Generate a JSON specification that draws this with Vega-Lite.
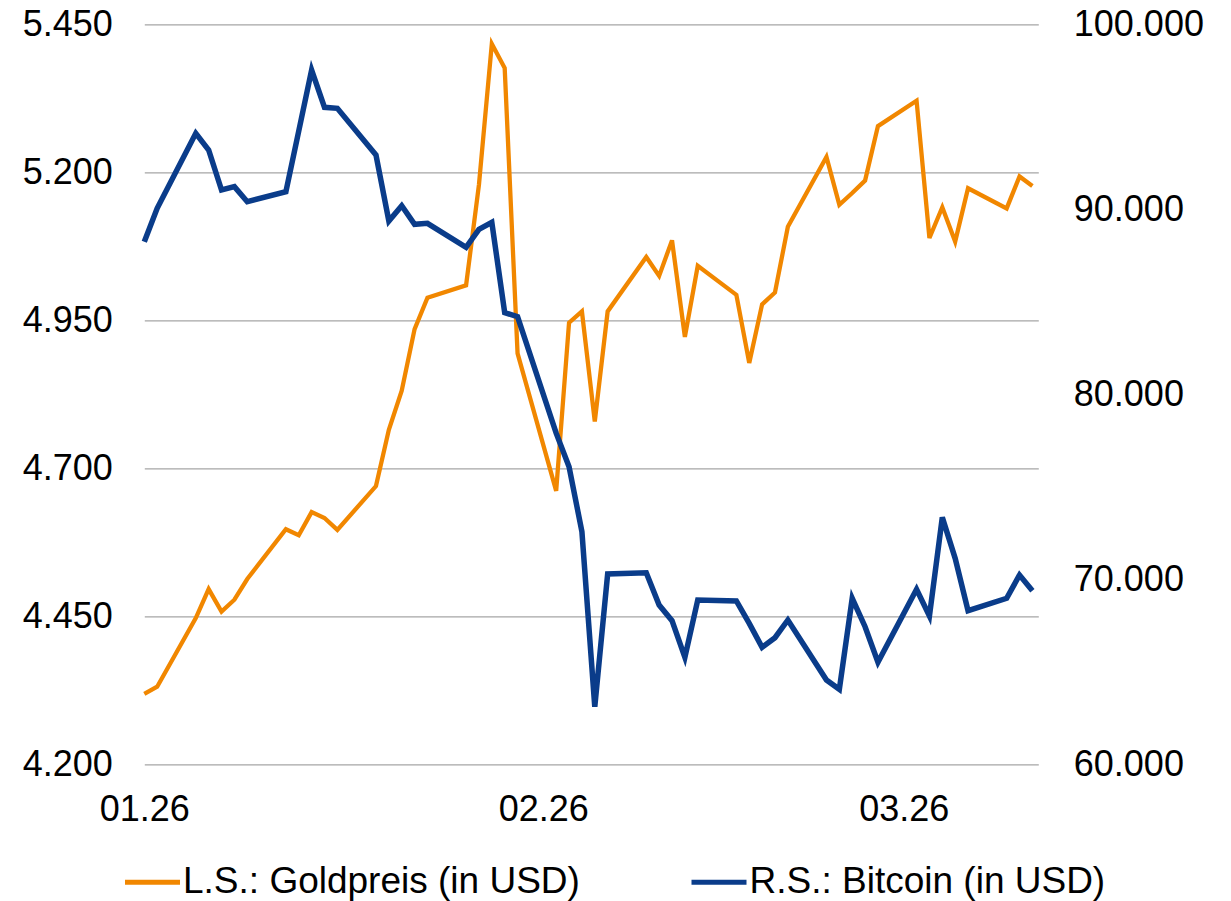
{
  "$schema": "https://vega.github.io/schema/vega-lite/v6.json",
  "width": 894,
  "height": 740,
  "autosize": {"type": "none"},
  "padding": {"left": 144.3, "top": 24.3, "right": 192.7, "bottom": 136.7},
  "background": "white",
  "config": {
    "view": {"stroke": null},
    "font": "Liberation Sans",
    "axis": {"labelFont": "Liberation Sans", "labelFontSize": 36, "labelColor": "#000000", "domain": false, "ticks": false, "title": null, "labelOverlap": false, "labelBound": false, "labelFlush": false},
    "legend": {"labelFont": "Liberation Sans", "labelFontSize": 37, "labelColor": "#000000", "labelLimit": 0}
  },
  "data": {
    "values": [
      {"d": "2026-01-01", "gold": 4319, "btc": 88250},
      {"d": "2026-01-02", "gold": 4331, "btc": 90054},
      {"d": "2026-01-05", "gold": 4447, "btc": 94108},
      {"d": "2026-01-06", "gold": 4496, "btc": 93205},
      {"d": "2026-01-07", "gold": 4458, "btc": 91043},
      {"d": "2026-01-08", "gold": 4478, "btc": 91222},
      {"d": "2026-01-09", "gold": 4513, "btc": 90411},
      {"d": "2026-01-12", "gold": 4597, "btc": 90951},
      {"d": "2026-01-13", "gold": 4587, "btc": 94230},
      {"d": "2026-01-14", "gold": 4626, "btc": 97530},
      {"d": "2026-01-15", "gold": 4616, "btc": 95514},
      {"d": "2026-01-16", "gold": 4596, "btc": 95459},
      {"d": "2026-01-19", "gold": 4670, "btc": 92935},
      {"d": "2026-01-20", "gold": 4765, "btc": 89368},
      {"d": "2026-01-21", "gold": 4831, "btc": 90195},
      {"d": "2026-01-22", "gold": 4935, "btc": 89189},
      {"d": "2026-01-23", "gold": 4988, "btc": 89243},
      {"d": "2026-01-26", "gold": 5009, "btc": 87946},
      {"d": "2026-01-27", "gold": 5179, "btc": 88919},
      {"d": "2026-01-28", "gold": 5417, "btc": 89297},
      {"d": "2026-01-29", "gold": 5376, "btc": 84411},
      {"d": "2026-01-30", "gold": 4894, "btc": 84195},
      {"d": "2026-02-02", "gold": 4662, "btc": 77900},
      {"d": "2026-02-03", "gold": 4946, "btc": 76087},
      {"d": "2026-02-04", "gold": 4965, "btc": 72573},
      {"d": "2026-02-05", "gold": 4779, "btc": 63114},
      {"d": "2026-02-06", "gold": 4965, "btc": 70286},
      {"d": "2026-02-09", "gold": 5057, "btc": 70357},
      {"d": "2026-02-10", "gold": 5025, "btc": 68611},
      {"d": "2026-02-11", "gold": 5085, "btc": 67762},
      {"d": "2026-02-12", "gold": 4922, "btc": 65784},
      {"d": "2026-02-13", "gold": 5042, "btc": 68881},
      {"d": "2026-02-16", "gold": 4993, "btc": 68827},
      {"d": "2026-02-17", "gold": 4878, "btc": 67620},
      {"d": "2026-02-18", "gold": 4977, "btc": 66324},
      {"d": "2026-02-19", "gold": 4997, "btc": 66843},
      {"d": "2026-02-20", "gold": 5108, "btc": 67800},
      {"d": "2026-02-23", "gold": 5226, "btc": 64557},
      {"d": "2026-02-24", "gold": 5145, "btc": 64054},
      {"d": "2026-02-25", "gold": 5165, "btc": 68973},
      {"d": "2026-02-26", "gold": 5186, "btc": 67438},
      {"d": "2026-02-27", "gold": 5278, "btc": 65514},
      {"d": "2026-03-02", "gold": 5321, "btc": 69459},
      {"d": "2026-03-03", "gold": 5089, "btc": 68016},
      {"d": "2026-03-04", "gold": 5141, "btc": 73351},
      {"d": "2026-03-05", "gold": 5083, "btc": 71135},
      {"d": "2026-03-06", "gold": 5173, "btc": 68303},
      {"d": "2026-03-09", "gold": 5139, "btc": 68973},
      {"d": "2026-03-10", "gold": 5193, "btc": 70232},
      {"d": "2026-03-11", "gold": 5177, "btc": 69384}
    ]
  },
  "layer": [
    {
      "mark": {"type": "line", "strokeWidth": 4.3},
      "encoding": {
        "x": {
          "field": "d", "type": "temporal",
          "scale": {"type": "utc", "domain": [{"year": 2026, "month": 1, "date": 1, "utc": true}, {"year": 2026, "month": 3, "date": 11, "hours": 11, "utc": true}]},
          "axis": {
            "values": [{"year": 2026, "month": 1, "date": 1, "utc": true}, {"year": 2026, "month": 2, "date": 1, "utc": true}, {"year": 2026, "month": 3, "date": 1, "utc": true}],
            "labelExpr": "utcFormat(datum.value, '%m.%y')", "grid": false, "labelPadding": 28, "labelAlign": "center"
          }
        },
        "y": {
          "field": "gold", "type": "quantitative",
          "scale": {"domain": [4200, 5450], "nice": false, "zero": false},
          "axis": {
            "orient": "left", "values": [4200, 4450, 4700, 4950, 5200, 5450],
            "labelExpr": "replace(format(datum.value, ',.0f'), ',', '.')",
            "grid": true, "gridColor": "#A6A6A6", "gridWidth": 1.3, "labelPadding": 32
          }
        },
        "color": {
          "datum": "L.S.: Goldpreis (in USD)",
          "scale": {"domain": ["L.S.: Goldpreis (in USD)", "R.S.: Bitcoin (in USD)"], "range": ["#F18700", "#0A3C8A"]},
          "legend": {
            "title": null, "orient": "none", "direction": "horizontal", "legendX": -21.8, "legendY": 828,
            "symbolType": "stroke", "symbolSize": 3025, "symbolStrokeWidth": 5, "labelOffset": 0.5,
            "columnPadding": 100.5, "padding": 0, "labelLimit": 0
          }
        }
      }
    },
    {
      "mark": {"type": "line", "strokeWidth": 5.5},
      "encoding": {
        "x": {"field": "d", "type": "temporal"},
        "y": {
          "field": "btc", "type": "quantitative",
          "scale": {"domain": [60000, 100000], "nice": false, "zero": false},
          "axis": {
            "orient": "right", "values": [60000, 70000, 80000, 90000, 100000],
            "labelExpr": "replace(format(datum.value, ',.0f'), ',', '.')",
            "grid": false, "labelPadding": 35
          }
        },
        "color": {"datum": "R.S.: Bitcoin (in USD)"}
      }
    }
  ],
  "resolve": {"scale": {"y": "independent"}}
}
